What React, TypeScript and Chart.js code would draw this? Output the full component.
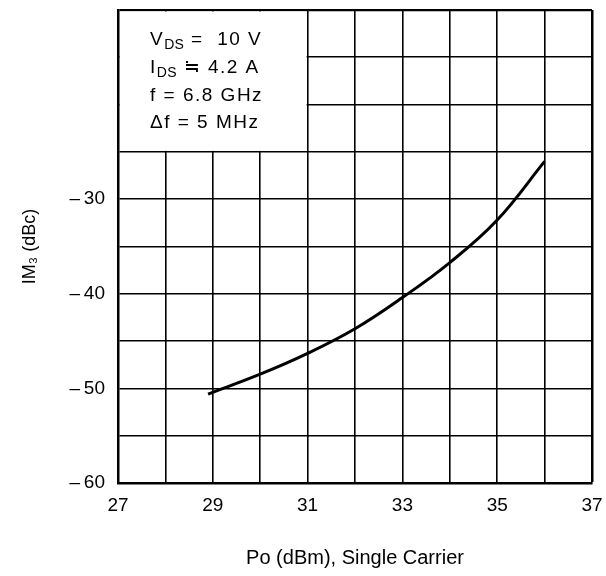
import { useEffect, useRef } from "react";
import { Chart, registerables } from "chart.js";

Chart.register(...registerables);

// Data
const poDbm = [28.9, 30, 31, 32, 33, 34, 35, 36];
const im3Dbc = [-50.6, -48.5, -46.3, -43.7, -40.4, -36.7, -32.2, -26.0];

const xLabelValues = [27, 29, 31, 33, 35, 37];
const yLabelValues = [-60, -50, -40, -30];

// Condition box (in data units) and its lines
const boxX = [27, 31];
const boxY = [-25, -10];
const conditionLines: { t: string; sub?: boolean }[][] = [
  [{ t: "V" }, { t: "DS", sub: true }, { t: " =  10 V" }],
  [{ t: "I" }, { t: "DS", sub: true }, { t: " \u2252 4.2 A" }],
  [{ t: "f = 6.8 GHz" }],
  [{ t: "\u0394f = 5 MHz" }],
];

const FONT = "'Liberation Sans', Arial, Helvetica, sans-serif";

const boxPlugin = {
  id: "conditionBox",
  beforeDatasetsDraw(chart: any) {
    const { ctx, scales } = chart;
    const xs = scales.x;
    const ys = scales.y;
    const l = xs.getPixelForValue(boxX[0]);
    const r = xs.getPixelForValue(boxX[1]);
    const t = ys.getPixelForValue(boxY[1]);
    const b = ys.getPixelForValue(boxY[0]);
    ctx.save();
    ctx.fillStyle = "#fff";
    ctx.fillRect(l + 2, t + 1.5, r - l - 3, b - t - 2.5);
    ctx.fillStyle = "#000";
    ctx.textBaseline = "alphabetic";
    ctx.textAlign = "left";
    const baseOffsets = [35, 63, 91, 118];
    conditionLines.forEach((parts, i) => {
      let x = l + 32;
      const y = t + baseOffsets[i];
      parts.forEach((p) => {
        ctx.font = p.sub ? `14px ${FONT}` : `19px ${FONT}`;
        (ctx as any).letterSpacing = p.sub ? "0.3px" : "1.5px";
        ctx.fillText(p.t, x, p.sub ? y + 4 : y);
        x += ctx.measureText(p.t).width;
      });
    });
    ctx.restore();
  },
};

export default function App() {
  const ref = useRef<HTMLCanvasElement | null>(null);

  useEffect(() => {
    if (!ref.current) return;
    const chart = new Chart(ref.current, {
      type: "line",
      data: {
        datasets: [
          {
            data: poDbm.map((x, i) => ({ x, y: im3Dbc[i] })),
            borderColor: "#000",
            borderWidth: 3,
            pointRadius: 0,
            fill: false,
            tension: 0.4,
          },
        ],
      },
      options: {
        animation: false,
        responsive: false,
        events: [],
        layout: { padding: { left: 0, right: 14, top: 10, bottom: 0 } },
        plugins: { legend: { display: false }, tooltip: { enabled: false } },
        scales: {
          x: {
            type: "linear",
            min: 27,
            max: 37,
            afterFit(s: any) {
              s.height = 93;
              s.paddingLeft = 0;
              s.paddingRight = 0;
            },
            ticks: {
              stepSize: 1,
              autoSkip: false,
              maxRotation: 0,
              color: "#000",
              padding: 11,
              font: { family: FONT, size: 19 },
              callback: (v: any) =>
                xLabelValues.some((q) => Math.abs(q - Number(v)) < 1e-6) ? String(Math.round(Number(v))) : "",
            },
            grid: {
              color: "#000",
              lineWidth: (c: any) => (c.tick && Math.abs(c.tick.value - 37) < 1e-6 ? 2.5 : 1.6),
              drawTicks: false,
            },
            border: { color: "#000", width: 2.5 },
            title: {
              display: true,
              text: "Po (dBm), Single Carrier",
              color: "#000",
              font: { family: FONT, size: 20 },
              padding: { top: 0, bottom: 6 },
            },
          },
          y: {
            type: "linear",
            min: -60,
            max: -10,
            afterFit(s: any) {
              s.width = 118;
              s.paddingTop = 0;
              s.paddingBottom = 0;
            },
            ticks: {
              stepSize: 5,
              autoSkip: false,
              color: "#000",
              padding: 13,
              font: { family: FONT, size: 19 },
              callback: (v: any) =>
                yLabelValues.some((q) => Math.abs(q - Number(v)) < 1e-6)
                  ? "\u2013\u2009" + Math.abs(Math.round(Number(v)))
                  : "",
            },
            grid: {
              color: "#000",
              lineWidth: (c: any) => (c.tick && Math.abs(c.tick.value + 10) < 1e-6 ? 2.2 : 1.6),
              drawTicks: false,
            },
            border: { color: "#000", width: 2.5 },
            title: {
              display: true,
              text: "IM\u2083 (dBc)",
              color: "#000",
              font: { family: FONT, size: 18 },
              padding: { top: 19, bottom: 0 },
            },
          },
        },
      },
      plugins: [boxPlugin],
    } as any);
    return () => chart.destroy();
  }, []);

  return (
    <div style={{ position: "absolute", left: 0, top: 0, width: 606, height: 576, background: "#fff" }}>
      <canvas ref={ref} width={606} height={576} style={{ display: "block" }} />
    </div>
  );
}
